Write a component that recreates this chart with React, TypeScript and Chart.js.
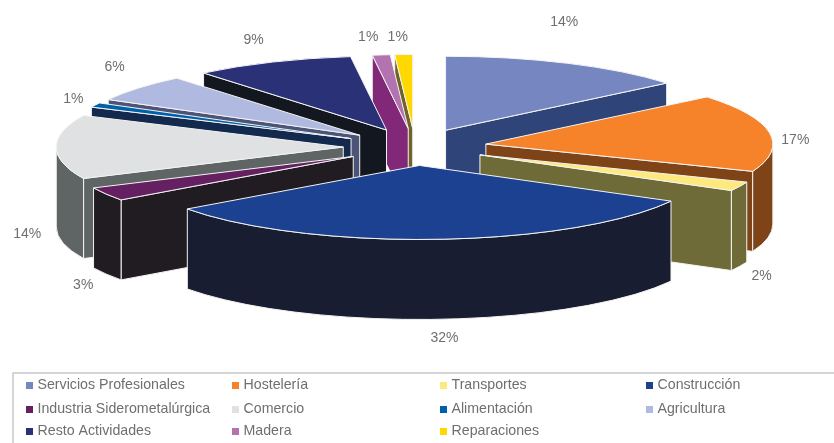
import React, { useEffect, useRef } from "react";
import { Chart, registerables } from "chart.js";

Chart.register(...registerables);

const categories = [
  "Servicios Profesionales", "Hostelería", "Transportes", "Construcción",
  "Industria Siderometalúrgica", "Comercio", "Alimentación", "Agricultura",
  "Resto Actividades", "Madera", "Reparaciones",
];
const shares = [14, 17, 2, 32, 3, 14, 1, 6, 9, 1, 1];
const topColors = [
  "#7686c0", "#f6822a", "#fee97f", "#1c4190", "#642060", "#dfe1e3",
  "#0060a9", "#b0b9e0", "#2b3177", "#b273b0", "#ffd800",
];
const wallColors = [
  "#2f4478", "#7f4318", "#6e6b38", "#191d31", "#211b22", "#5f6464",
  "#13294d", "#4c5578", "#13171f", "#812878", "#6e6428",
];
// label nudges from each slice's outer-arc anchor
const labelNudgeX = [-3.5, 26, 22, 7, -23, -29, -22, -24, -19, -13, -6];
const labelNudgeY = [-41, 8, 90, 99, 91, 87, -6, -21, -22, -18, -17];

const RX = 287;
const RY = 74;
const DEPTH = 80;
const FONT = '"Liberation Sans", Arial, sans-serif';

const pie3d = {
  id: "pie3d",
  beforeDatasetDraw: () => false,
  afterDatasetsDraw(chart: any) {
    const ctx: CanvasRenderingContext2D = chart.ctx;
    const arcs: any[] = chart.getDatasetMeta(0).data;
    const mid = (a: any) => (a.startAngle + a.endAngle) / 2;
    const order = arcs.map((_, i) => i).sort((p, q) => Math.sin(mid(arcs[p])) - Math.sin(mid(arcs[q])));
    ctx.save();
    ctx.lineWidth = 1;
    ctx.lineJoin = "round";
    ctx.strokeStyle = "#f4f4f4";
    for (const i of order) {
      const a = arcs[i];
      const sx = RX / a.outerRadius;
      const sy = RY / a.outerRadius;
      const off = a.options.offset / 2;
      const m = mid(a);
      const cx = a.x + Math.cos(m) * off * sx;
      const cy = a.y + Math.sin(m) * off * sy;
      const s = a.startAngle;
      const e = a.endAngle;
      const wall = wallColors[i];
      const radial = (t: number) => {
        const px = cx + RX * Math.cos(t);
        const py = cy + RY * Math.sin(t);
        ctx.beginPath();
        ctx.moveTo(cx, cy);
        ctx.lineTo(px, py);
        ctx.lineTo(px, py + DEPTH);
        ctx.lineTo(cx, cy + DEPTH);
        ctx.closePath();
        ctx.fillStyle = wall;
        ctx.fill();
        ctx.stroke();
      };
      if (Math.cos(s) < 0) radial(s);
      if (Math.cos(e) > 0) radial(e);
      const f0 = Math.max(s, 0);
      const f1 = Math.min(e, Math.PI);
      if (f1 > f0) {
        ctx.beginPath();
        ctx.ellipse(cx, cy, RX, RY, 0, f0, f1);
        ctx.ellipse(cx, cy + DEPTH, RX, RY, 0, f1, f0, true);
        ctx.closePath();
        ctx.fillStyle = wall;
        ctx.fill();
        ctx.stroke();
      }
      ctx.beginPath();
      ctx.moveTo(cx, cy);
      ctx.ellipse(cx, cy, RX, RY, 0, s, e);
      ctx.closePath();
      ctx.fillStyle = a.options.backgroundColor;
      ctx.fill();
      ctx.stroke();
    }
    // percentage labels
    ctx.font = `14px ${FONT}`;
    ctx.fillStyle = "#6f6f6f";
    ctx.textAlign = "center";
    ctx.textBaseline = "middle";
    arcs.forEach((a, i) => {
      const k = 1 + a.options.offset / 2 / a.outerRadius;
      const m = mid(a);
      ctx.fillText(
        `${shares[i]}%`,
        a.x + Math.cos(m) * RX * k + labelNudgeX[i],
        a.y + Math.sin(m) * RY * k + labelNudgeY[i],
      );
    });
    // legend
    ctx.strokeStyle = "#c8c8c8";
    ctx.lineWidth = 1.5;
    ctx.strokeRect(13, 373, 840, 100);
    ctx.font = `14.2px ${FONT}`;
    ctx.textAlign = "left";
    const cols = [26, 232, 440, 646];
    const rows = [385, 409, 431];
    categories.forEach((label, i) => {
      const x = cols[i % 4];
      const y = rows[Math.floor(i / 4)];
      ctx.fillStyle = topColors[i];
      ctx.fillRect(x, y - 3, 7, 7);
      ctx.fillStyle = "#6f6f6f";
      ctx.fillText(label, x + 11.5, y + 0.5);
    });
    ctx.restore();
  },
};

export default function App() {
  const ref = useRef<HTMLCanvasElement>(null);
  useEffect(() => {
    const chart = new Chart(ref.current as HTMLCanvasElement, {
      type: "pie",
      data: {
        labels: categories,
        datasets: [{ data: shares, backgroundColor: topColors, borderWidth: 1, offset: 58.6 }],
      },
      options: {
        responsive: false,
        animation: false,
        events: [],
        layout: { padding: { right: 4, bottom: 149 } },
        plugins: { legend: { display: false }, tooltip: { enabled: false } },
      },
      plugins: [pie3d],
    } as any);
    return () => chart.destroy();
  }, []);
  return (
    <div style={{ position: "fixed", left: 0, top: 0, width: 834, height: 443, background: "#fff" }}>
      <canvas ref={ref} width={834} height={443} style={{ display: "block" }} />
    </div>
  );
}
